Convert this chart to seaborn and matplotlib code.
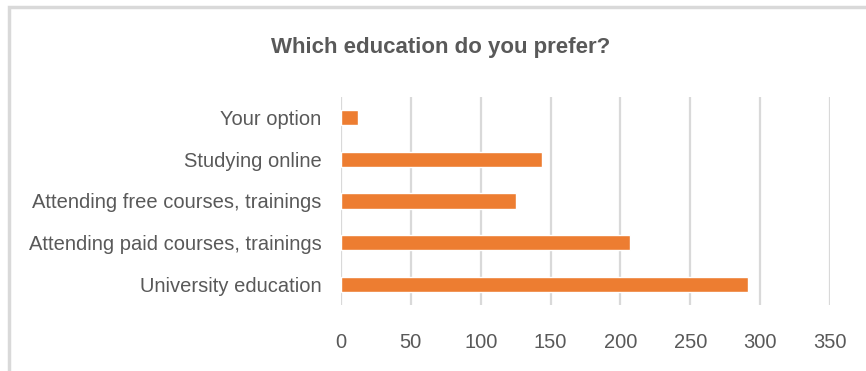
import matplotlib
matplotlib.use("Agg")
import matplotlib.pyplot as plt
import matplotlib.patches as mpatches
import seaborn as sns
import pandas as pd

categories = ["Your option", "Studying online", "Attending free courses, trainings",
              "Attending paid courses, trainings", "University education"]
values = [12, 144, 125, 207, 291]
xticks = [0, 50, 100, 150, 200, 250, 300, 350]
title = "Which education do you prefer?"

sns.set_theme(style="white")
plt.rcParams["font.family"] = ["Liberation Sans", "DejaVu Sans"]

df = pd.DataFrame({"category": categories, "value": values})

fig = plt.figure(figsize=(8.66, 3.71), dpi=100)
ax = fig.add_axes([341/866, 1-305/371, (830-341)/866, (305-97)/371])
ax.set_axisbelow(True)
sns.barplot(data=df, x="value", y="category", orient="h", color="#ED7D31",
            saturation=1, width=0.37, ax=ax)
ax.set_xlim(0, 350)
ax.set_ylim(4.5, -0.5)
ax.set_xticks(xticks)
ax.set_xticklabels([str(t) for t in xticks])
ax.grid(axis="x", color="#D9D9D9", linewidth=1.6)
ax.grid(axis="y", visible=False)
for s in ax.spines.values():
    s.set_visible(False)
ax.set_xlabel("")
ax.set_ylabel("")
ax.tick_params(axis="both", length=0, colors="#595959", labelsize=14.5)
ax.tick_params(axis="y", pad=14)
ax.tick_params(axis="x", pad=20)
fig.text(441/866, 1-47/371, title, ha="center", va="center",
         fontsize=16, fontweight="bold", color="#595959")
fig.patches.append(mpatches.Rectangle((9/866, -0.1), 1.2, 1-7/371+0.1, transform=fig.transFigure,
                                      fill=False, edgecolor="#D9D9D9", linewidth=2.5, figure=fig))
fig.savefig("out.png", dpi=100, facecolor="white")
